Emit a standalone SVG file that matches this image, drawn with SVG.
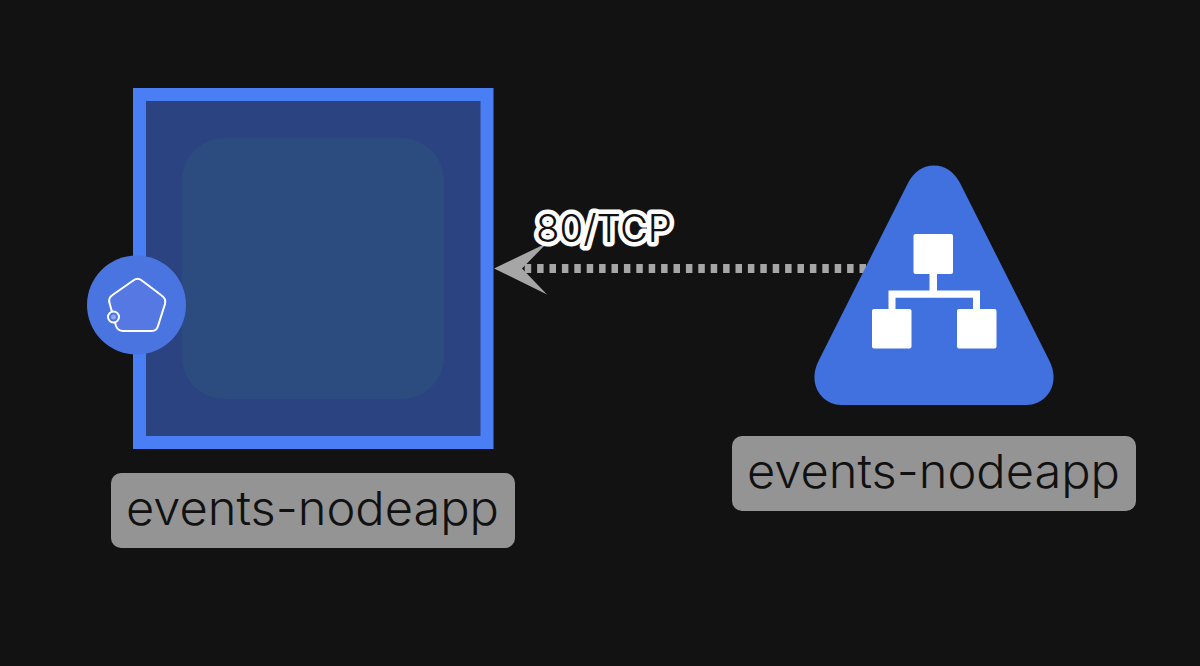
<svg xmlns="http://www.w3.org/2000/svg" width="1200" height="666" viewBox="0 0 1200 666">
<style>
.lb{fill:#949494}
.lt{font-family:"Inter","Lato","Liberation Sans",sans-serif;font-weight:300;font-size:47px;fill:#111}
.ic{fill:#fff}
</style>
<rect width="1200" height="666" fill="#121212"/>
<g id="connectors">
<line x1="866" y1="268.500" x2="523" y2="268.500" stroke="#a6a6a6" stroke-width="9" stroke-dasharray="6.500 5.900"/>
<polygon points="494,268.500 547,243 522,268.500 547,294.500" fill="#a6a6a6"/>
<text x="536" y="242" font-family="Inter,Lato,'Liberation Sans',sans-serif" font-size="38" font-weight="300" fill="#111" stroke="#fff" stroke-width="9" stroke-linejoin="round" paint-order="stroke" textLength="136" lengthAdjust="spacingAndGlyphs">80/TCP</text>
</g>
<g id="pod">
<rect x="139.500" y="94.500" width="347.500" height="348" fill="#2b4381" stroke="#4a7ef5" stroke-width="13"/>
<rect x="182" y="138" width="262" height="261" rx="42" fill="#2c4c80"/>
<circle cx="136.500" cy="305" r="49.500" fill="#4a74e0"/>
<path d="M132.500 281 Q137.500 276.500 142.500 281 L161 295 Q166.500 298.500 165 304 L158 326 Q156.500 331 152 331 L123 331 Q118 331 116 326 L109.500 303 Q108 298 112.500 295 Z" fill="#5578e2" stroke="#fff" stroke-width="2"/>
<circle cx="113.500" cy="317" r="5.500" fill="#4a74e0" stroke="#fff" stroke-width="2"/>
<circle cx="113.500" cy="317" r="2.500" fill="#8fa9ec"/>
</g>
<g id="pod-label">
<rect class="lb" x="111" y="473" width="404" height="75" rx="10"/>
<text class="lt" x="126" y="525" textLength="373" lengthAdjust="spacingAndGlyphs">events-nodeapp</text>
</g>
<g id="service">
<path d="M819 360 L908 183 C914 172 922 165.500 934 165.500 C946 165.500 954 172 960 183 L1049 360 C1062 385 1045 405 1027 405 L841 405 C823 405 806 385 819 360 Z" fill="#4170df"/>
<rect class="ic" x="913.500" y="234" width="39.500" height="40" rx="2"/>
<rect class="ic" x="872" y="309" width="39.500" height="39.500" rx="2"/>
<rect class="ic" x="957" y="309" width="39.500" height="39.500" rx="2"/>
<path class="ic" d="M929.500 274H937V290.500H980V309H973V297.700H895.500V309H888.500V290.500H929.500Z"/>
</g>
<g id="service-label">
<rect class="lb" x="732" y="436" width="404" height="75" rx="10"/>
<text class="lt" x="747" y="488" textLength="373" lengthAdjust="spacingAndGlyphs">events-nodeapp</text>
</g>
</svg>
